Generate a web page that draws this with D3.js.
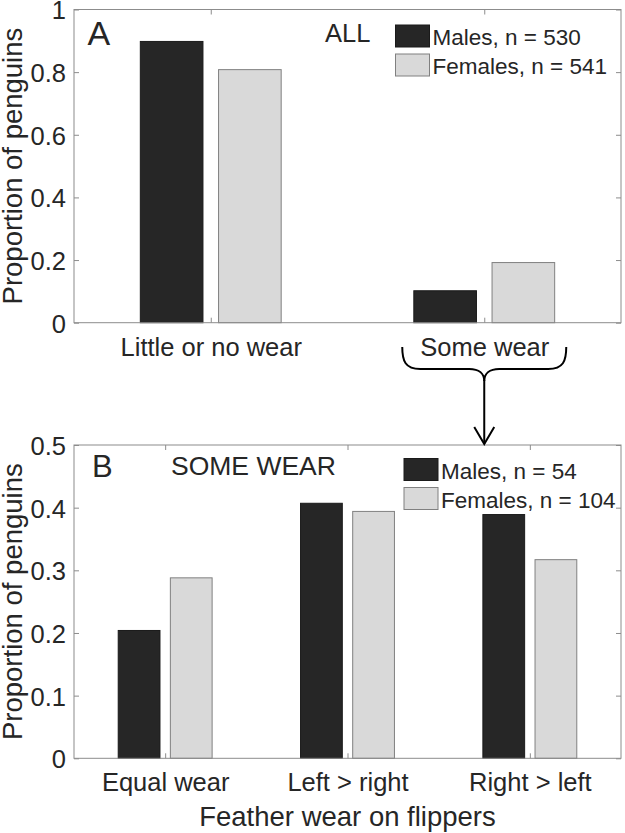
<!DOCTYPE html>
<html>
<head>
<meta charset="utf-8">
<script src="https://cdn.jsdelivr.net/npm/d3@7"></script>
<style>
  html, body { margin: 0; padding: 0; background: #fff; }
  svg { display: block; }
  text { font-family: "Liberation Sans", Arial, Helvetica, sans-serif; fill: #262626; }
</style>
</head>
<body>
<svg id="chart" width="625" height="833"></svg>
<script>
// ---- Data ----
const catsA = ["Little or no wear", "Some wear"];
const malesA = [0.898, 0.102];
const femalesA = [0.808, 0.192];
const ticksA = [0, 0.2, 0.4, 0.6, 0.8, 1];
const legendA = ["Males, n = 530", "Females, n = 541"];

const catsB = ["Equal wear", "Left > right", "Right > left"];
const malesB = [0.204, 0.407, 0.389];
const femalesB = [0.288, 0.394, 0.317];
const ticksB = [0, 0.1, 0.2, 0.3, 0.4, 0.5];
const legendB = ["Males, n = 54", "Females, n = 104"];

const seriesColors = ["#262626", "#d9d9d9"];
const seriesStroke = ["#1a1a1a", "#808080"];

const svg = d3.select("#chart");
const left = 74, right = 621;
const axisColor = "#8c8c8c";

function panel(opts) {
  const { cats, males, females, ticks, legend, top, bottom, ymax, letter, title } = opts;
  const g = svg.append("g");
  const x = d3.scaleLinear().domain([0.5, cats.length + 0.5]).range([left, right]);
  const y = d3.scaleLinear().domain([0, ymax]).range([bottom, top]);

  const offset = 0.143, bw = 0.229;
  const series = [males, females];
  series.forEach((vals, s) => {
    g.selectAll(null).data(vals).enter().append("rect")
      .attr("x", (d, i) => x(i + 1 + (s === 0 ? -offset : offset) - bw / 2))
      .attr("width", x(bw) - x(0))
      .attr("y", d => y(d))
      .attr("height", d => y(0) - y(d))
      .attr("fill", seriesColors[s])
      .attr("stroke", seriesStroke[s])
      .attr("stroke-width", 1);
  });

  // axes
  const yl = g.append("g").attr("transform", `translate(${left},0)`)
    .call(d3.axisLeft(y).tickValues(ticks).tickFormat(d => String(d)).tickSize(-5).tickPadding(8));
  yl.selectAll("text").attr("dy", "0.37em");
  const yr = g.append("g").attr("transform", `translate(${right},0)`)
    .call(d3.axisRight(y).tickValues(ticks).tickFormat("").tickSize(-5));
  const xb = g.append("g").attr("transform", `translate(0,${bottom})`)
    .call(d3.axisBottom(x).tickValues(d3.range(1, cats.length + 1)).tickFormat(i => cats[i - 1]).tickSize(-5).tickPadding(15));
  const xt = g.append("g").attr("transform", `translate(0,${top})`)
    .call(d3.axisTop(x).tickValues(d3.range(1, cats.length + 1)).tickFormat("").tickSize(-5));
  [yl, yr, xb, xt].forEach(a => {
    a.select(".domain").remove();
    a.selectAll("line").attr("stroke", axisColor);
    a.selectAll("text").attr("fill", "#262626").style("font-size", "25.5px")
      .attr("font-family", "'Liberation Sans', Arial, sans-serif");
  });
  g.append("rect").attr("x", left).attr("y", top).attr("width", right - left).attr("height", bottom - top)
    .attr("fill", "none").attr("stroke", axisColor).attr("stroke-width", 1);

  // y label
  g.append("text")
    .attr("transform", `translate(22,${(top + bottom) / 2}) rotate(-90)`)
    .attr("text-anchor", "middle")
    .style("font-size", "27.5px")
    .text("Proportion of penguins");

  // panel letter & title
  g.append("text").attr("x", opts.letterX).attr("y", opts.letterY).style("font-size", opts.letterSize + "px").text(letter);
  g.append("text").attr("x", opts.titleX).attr("y", opts.titleY).style("font-size", opts.titleSize + "px").text(title);

  // legend
  legend.forEach((t, s) => {
    const ly = opts.legY + s * opts.legStep;
    g.append("rect").attr("x", opts.legX).attr("y", ly).attr("width", 34).attr("height", 22)
      .attr("fill", seriesColors[s]).attr("stroke", seriesStroke[s]).attr("stroke-width", 1);
    g.append("text").attr("x", opts.legX + 37).attr("y", ly + 20).style("font-size", "22.5px").text(t);
  });
  return { x, y, g };
}

const A = panel({
  cats: catsA, males: malesA, females: femalesA, ticks: ticksA, legend: legendA,
  top: 9.5, bottom: 322.7, ymax: 1, letter: "A", title: "ALL",
  letterX: 87.5, letterY: 45, letterSize: 34,
  titleX: 325, titleY: 42, titleSize: 25.5,
  legX: 395.5, legY: 25, legStep: 29
});

const B = panel({
  cats: catsB, males: malesB, females: femalesB, ticks: ticksB, legend: legendB,
  top: 445, bottom: 758.3, ymax: 0.5, letter: "B", title: "SOME WEAR",
  letterX: 92, letterY: 477, letterSize: 31,
  titleX: 171, titleY: 475, titleSize: 26.5,
  legX: 404, legY: 458.5, legStep: 29
});

// x-axis label for panel B
svg.append("text").attr("x", (left + right) / 2).attr("y", 826)
  .attr("text-anchor", "middle").style("font-size", "27.5px").text("Feather wear on flippers");

// brace + arrow from "Some wear" to panel B
const c = A.x(2);
const brace = `M${c - 82},347 C${c - 82},361 ${c - 79},369 ${c - 64},369 L${c - 15},369 C${c - 5},369 ${c},374 ${c},381 C${c},374 ${c + 5},369 ${c + 15},369 L${c + 64},369 C${c + 79},369 ${c + 82},361 ${c + 82},347`;
svg.append("path").attr("d", brace).attr("fill", "none").attr("stroke", "#000").attr("stroke-width", 2);
svg.append("line").attr("x1", c).attr("x2", c).attr("y1", 380).attr("y2", 444)
  .attr("stroke", "#000").attr("stroke-width", 2);
svg.append("path").attr("d", `M${c - 10},427 L${c},444 L${c + 10},427`)
  .attr("fill", "none").attr("stroke", "#000").attr("stroke-width", 2);
</script>
</body>
</html>
